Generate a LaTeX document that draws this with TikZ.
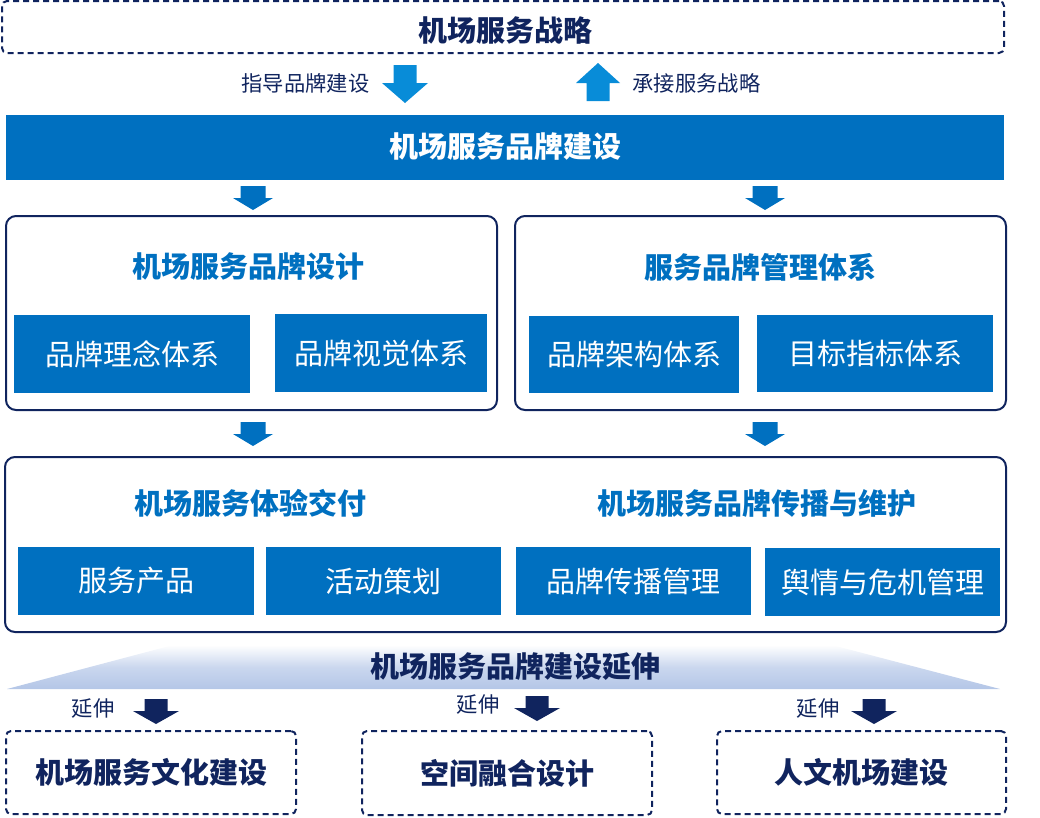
\documentclass[tikz,border=0pt]{standalone}
\usepackage{fontspec}
\setmainfont{Noto Sans CJK SC}
\usepackage{xcolor}
\definecolor{navyblue}{RGB}{16, 36, 94}
\definecolor{brandblue}{RGB}{0, 112, 192}
\definecolor{skyblue}{RGB}{8, 140, 216}
\definecolor{paleblue}{RGB}{180, 198, 231}
\usetikzlibrary{positioning}
\tikzset{
  pics/barrow/.style n args={4}{code={
    \fill (-#1,0) -- (#1,0) -- (#1,#3-#4) -- (#2,#3-#4) -- (0,#3)
      -- (-#2,#3-#4) -- (-#1,#3-#4) -- cycle;}}
}

\begin{document}
\begin{tikzpicture}[x=1pt, y=-1pt,
    dashbox/.style={draw=navyblue, line width=2pt, dash pattern=on 6pt off 4pt, rounded corners=5pt,
      inner sep=0pt, text=navyblue, font=\bfseries\fontsize{29}{33}\selectfont},
    panel/.style={draw=navyblue, line width=2pt, rounded corners=10pt, inner sep=0pt},
    subbox/.style={fill=brandblue, inner sep=0pt, text=white, font=\fontsize{29}{33}\selectfont},
    paneltitle/.style={text=brandblue, font=\bfseries\fontsize{29}{33}\selectfont},
    note/.style={text=navyblue, font=\fontsize{21.3}{25}\selectfont}]
    \useasboundingbox (0,0) rectangle (1040,817);
    \node[dashbox, minimum width=1002pt, minimum height=52pt] (strategy) at (503,27) {};
    \node[text=navyblue, font=\bfseries\fontsize{29}{33}\selectfont] (strategytitle) at (505,30) {机场服务战略};
    \pic[fill=skyblue] at (405,65) {barrow={11.5}{23}{38}{20}};
    \pic[fill=skyblue, rotate=180] at (598,101) {barrow={11.5}{22}{38}{20}};
    \node[note, anchor=east] (guide) at (373,83) {指导品牌建设};
    \node[note, anchor=west] (accept) at (629,83) {承接服务战略};
    \node[fill=brandblue, inner sep=0pt, minimum width=998pt, minimum height=65pt, text=white,
      font=\bfseries\fontsize{29}{33}\selectfont] (brand) at (505,147) {机场服务品牌建设};
    \pic[fill=brandblue] at (253,186) {barrow={12.5}{20}{24}{12}};
    \pic[fill=brandblue] at (765,186) {barrow={12.5}{20}{24}{12}};
    \node[panel, minimum width=491pt, minimum height=194pt] (design) at (251.5,313) {};
    \node[panel, minimum width=491pt, minimum height=194pt] (manage) at (760.5,313) {};
    \node[paneltitle] (designtitle) at (248,267) {机场服务品牌设计};
    \node[paneltitle] (managetitle) at (760,267) {服务品牌管理体系};
    \node[subbox, minimum width=236pt, minimum height=78pt] (idea) at (132,354) {品牌理念体系};
    \node[subbox, minimum width=212pt, minimum height=78pt] (visual) at (381,353) {品牌视觉体系};
    \node[subbox, minimum width=210pt, minimum height=77pt] (arch) at (634,354.5) {品牌架构体系};
    \node[subbox, minimum width=236pt, minimum height=77pt] (target) at (875,353.5) {目标指标体系};
    \pic[fill=brandblue] at (253,422) {barrow={12.5}{20}{24}{12}};
    \pic[fill=brandblue] at (765,422) {barrow={12.5}{20}{24}{12}};
    \node[panel, minimum width=1001pt, minimum height=175pt] (deliver) at (505.5,544.5) {};
    \node[paneltitle] (delivertitle) at (250,503) {机场服务体验交付};
    \node[paneltitle] (spreadtitle) at (757,503) {机场服务品牌传播与维护};
    \node[subbox, minimum width=236pt, minimum height=68pt] (product) at (136,581) {服务产品};
    \node[subbox, minimum width=235pt, minimum height=68pt] (event) at (383.5,581) {活动策划};
    \node[subbox, minimum width=235pt, minimum height=68pt] (spread) at (633.5,581) {品牌传播管理};
    \node[subbox, minimum width=235pt, minimum height=68pt] (crisis) at (882.5,582) {舆情与危机管理};
    \shade[top color=white, bottom color=paleblue, middle color=paleblue!70] (173,645) -- (832,645) -- (1000,689) -- (7,689) -- cycle;
    \node[text=navyblue, font=\bfseries\fontsize{29}{33}\selectfont] (extend) at (515,667) {机场服务品牌建设延伸};
    \node[note, anchor=east] (extendA) at (118,709) {延伸};
    \node[note, anchor=east] (extendB) at (503,705) {延伸};
    \node[note, anchor=east] (extendC) at (843,709) {延伸};
    \pic[fill=navyblue] at (156,699) {barrow={11.5}{23}{25}{13}};
    \pic[fill=navyblue] at (537,696) {barrow={11.5}{23}{25}{13}};
    \pic[fill=navyblue] at (874,699) {barrow={11.5}{23}{25}{13}};
    \node[dashbox, minimum width=290pt, minimum height=83pt] (culture) at (151,772.5) {机场服务文化建设};
    \node[dashbox, minimum width=290pt, minimum height=84pt] (space) at (507,773) {空间融合设计};
    \node[dashbox, minimum width=289pt, minimum height=83pt] (human) at (861.5,772.5) {人文机场建设};
\end{tikzpicture}
\end{document}
